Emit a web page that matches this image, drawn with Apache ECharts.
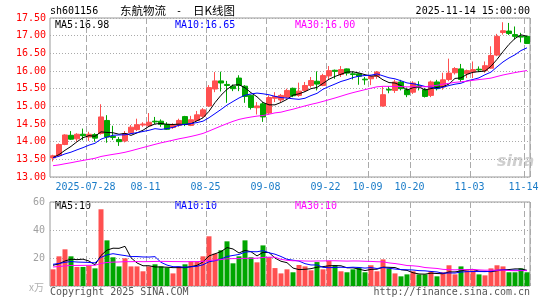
<!DOCTYPE html>
<html><head><meta charset="utf-8">
<script src="https://cdn.jsdelivr.net/npm/echarts@6/dist/echarts.min.js"></script>
<style>html,body{margin:0;padding:0;background:#fff}#c{width:545px;height:300px}</style>
</head><body><div id="c"></div><script>
// ---- data ----
const dates = [
 '2025-07-18','2025-07-21','2025-07-22','2025-07-23','2025-07-24','2025-07-25','2025-07-28','2025-07-29','2025-07-30','2025-07-31',
 '2025-08-01','2025-08-04','2025-08-05','2025-08-06','2025-08-07','2025-08-08','2025-08-11','2025-08-12','2025-08-13','2025-08-14',
 '2025-08-15','2025-08-18','2025-08-19','2025-08-20','2025-08-21','2025-08-22','2025-08-25','2025-08-26','2025-08-27','2025-08-28',
 '2025-08-29','2025-09-01','2025-09-02','2025-09-03','2025-09-04','2025-09-05','2025-09-08','2025-09-09','2025-09-10','2025-09-11',
 '2025-09-12','2025-09-15','2025-09-16','2025-09-17','2025-09-18','2025-09-19','2025-09-22','2025-09-23','2025-09-24','2025-09-25',
 '2025-09-26','2025-09-29','2025-09-30','2025-10-09','2025-10-10','2025-10-13','2025-10-14','2025-10-15','2025-10-16','2025-10-17',
 '2025-10-20','2025-10-21','2025-10-22','2025-10-23','2025-10-24','2025-10-27','2025-10-28','2025-10-29','2025-10-30','2025-10-31',
 '2025-11-03','2025-11-04','2025-11-05','2025-11-06','2025-11-07','2025-11-10','2025-11-11','2025-11-12','2025-11-13','2025-11-14'];
const opens = [13.54,13.61,13.92,14.18,14.08,14.21,14.13,14.20,14.23,14.60,
 14.15,14.06,14.02,14.25,14.34,14.47,14.45,14.58,14.58,14.49,
 14.40,14.46,14.71,14.46,14.60,14.72,15.01,15.49,15.72,15.62,
 15.57,15.80,15.57,15.31,14.96,15.07,14.81,15.23,15.18,15.26,
 15.51,15.31,15.45,15.59,15.71,15.59,15.86,16.02,15.90,16.06,
 15.92,15.92,15.77,15.78,15.85,15.01,15.48,15.45,15.69,15.47,
 15.40,15.58,15.47,15.31,15.69,15.55,15.76,15.95,16.06,15.92,
 15.97,16.05,16.01,16.08,16.45,17.09,17.13,17.03,16.98,16.98];
const closes = [13.60,13.92,14.19,14.07,14.21,14.17,14.21,14.10,14.70,14.13,
 14.12,14.00,14.23,14.41,14.48,14.50,14.55,14.56,14.49,14.35,
 14.48,14.60,14.49,14.62,14.76,14.90,15.53,15.72,15.66,15.59,
 15.50,15.59,15.28,14.97,15.01,14.70,15.25,15.28,15.31,15.45,
 15.30,15.43,15.59,15.73,15.63,15.87,16.01,15.99,16.04,15.94,
 15.90,15.85,15.75,15.85,15.97,15.33,15.46,15.69,15.50,15.33,
 15.66,15.55,15.28,15.69,15.50,15.75,15.94,16.07,15.76,16.01,
 16.04,16.03,16.15,16.44,16.98,17.14,17.06,16.98,16.96,16.78];
const lows = [13.44,13.59,13.90,14.05,14.00,14.04,14.02,14.00,14.20,13.97,
 14.05,13.88,13.98,14.22,14.30,14.42,14.42,14.50,14.42,14.33,
 14.36,14.42,14.44,14.44,14.58,14.68,14.98,15.40,15.42,15.10,
 15.43,15.43,15.10,14.91,14.77,14.56,14.77,15.12,15.12,15.22,
 15.26,15.27,15.41,15.53,15.45,15.57,15.75,15.78,15.83,15.87,
 15.76,15.61,15.61,15.60,15.78,14.99,15.37,15.38,15.45,15.26,
 15.35,15.45,15.25,15.26,15.45,15.47,15.71,15.90,15.69,15.80,
 15.80,15.97,15.95,16.06,16.42,17.03,17.02,16.89,16.81,16.77];
const highs = [13.63,13.95,14.21,14.30,14.24,14.37,14.28,14.24,15.06,14.75,
 14.45,14.13,14.30,14.47,14.65,14.55,14.81,14.70,14.63,14.55,
 14.52,14.65,14.73,14.73,14.87,14.95,15.60,15.97,15.98,15.72,
 15.62,15.88,15.60,15.33,15.12,15.12,15.31,15.40,15.35,15.50,
 15.53,15.67,15.69,15.83,15.99,15.92,16.14,16.04,16.14,16.07,
 15.99,15.94,15.83,15.88,16.00,15.56,15.57,15.75,15.75,15.53,
 15.71,15.71,15.52,15.73,15.75,15.95,16.35,16.11,16.20,16.04,
 16.27,16.13,16.27,16.70,17.05,17.38,17.36,17.26,17.08,17.00];
const volumes = [11.9,21.2,26.2,21.2,13.6,13.6,14.5,12.6,54.8,32.6,
 20.5,14.0,19.8,14.0,14.0,10.5,14.0,15.5,14.0,13.1,
 9.0,14.0,15.5,17.6,17.6,21.2,35.5,23.1,25.5,31.9,
 16.2,21.2,32.6,20.5,16.9,29.0,20.6,12.8,9.0,11.9,
 9.8,15.0,14.0,11.2,17.1,11.9,17.9,14.8,10.5,9.8,
 11.9,13.1,9.8,14.8,10.5,19.0,12.6,9.0,6.9,8.3,
 10.5,8.3,8.3,10.5,6.9,9.8,14.8,8.3,14.0,11.2,
 11.2,8.3,7.6,12.6,14.8,14.0,9.8,9.8,12.6,9.8];
// closes / volumes before the visible window, estimated from where the MA lines start
const prevCloses = [13.25,13.20,13.22,13.18,13.24,13.28,13.20,13.16,13.22,13.25,13.20,13.26,
 13.15,13.10,13.12,13.18,13.22,13.20,13.26,13.31,
 13.45,13.52,13.58,13.55,13.55,
 13.50,13.58,13.52,13.55];
const prevVolumes = [12,13,11,14,12,13,12,15,13,12,11,13,14,12,13,12,13,12,14,12,
 15,18,16,17,15, 16,15.9,15,15.2];
const tickDates = ['2025-07-28','2025-08-11','2025-08-25','2025-09-08','2025-09-22','2025-10-09','2025-10-20','2025-11-03','2025-11-14'];
const tickTexts = ['2025-07-28','08-11','08-25','09-08','09-22','10-09','10-20','11-03','11-14'];
const priceMA = ['MA5:16.98','MA10:16.65','MA30:16.00'];
const volMA = ['MA5:10','MA10:10','MA30:10'];
const code = 'sh601156';
const titleName = '东航物流';
const titleKind = '日K线图';
const stamp = '2025-11-14 15:00:00';
const copyright = 'Copyright 2025 SINA.COM';
const site = 'http://finance.sina.com.cn';

// ---- helpers ----
function movingAvg(prev, vals, n) {
  const all = prev.concat(vals), off = prev.length, out = [];
  for (let i = 0; i < vals.length; i++) {
    let s = 0;
    for (let k = off + i - n + 1; k <= off + i; k++) s += all[k];
    out.push(+(s / n).toFixed(3));
  }
  return out;
}
const RED = '#ff5050', GREEN = '#00a600';
const MONO = '"DejaVu Sans Mono", monospace';
const CJK = '"Noto Sans CJK SC", sans-serif';
const candle = dates.map((d, i) => [opens[i], closes[i], lows[i], highs[i]]);
const volData = volumes.map((v, i) => ({value: v, itemStyle: {color: closes[i] >= opens[i] ? RED : GREEN}}));
const tickIdx = new Set(tickDates.map(d => dates.indexOf(d)));
const tickText = {}; tickDates.forEach((d, k) => tickText[d] = tickTexts[k]);
const splitX = {show: true, interval: (i) => tickIdx.has(i), lineStyle: {color: '#aaa', type: [6, 3], width: 1}};
const lineS = (name, data, color, xi) => ({name, type: 'line', data, xAxisIndex: xi, yAxisIndex: xi,
  symbol: 'none', lineStyle: {color, width: 1}, itemStyle: {color}, silent: true, z: 5});
const txt = (text, x, y, fill, font, align) => ({type: 'text', x, y, silent: true,
  style: {text, fill, font, align: align || 'left', verticalAlign: 'middle'}});

const chart = echarts.init(document.getElementById('c'), null, {renderer: 'canvas'});
chart.setOption({
  animation: false,
  backgroundColor: '#fff',
  grid: [
    {left: 50, top: 18, width: 480, height: 159, show: true, borderColor: '#999', borderWidth: 1},
    {left: 50, top: 202, width: 480, height: 84, show: true, borderColor: '#999', borderWidth: 1}
  ],
  xAxis: [
    {type: 'category', gridIndex: 0, data: dates, boundaryGap: true,
     axisLine: {show: false}, axisTick: {show: false},
     axisLabel: {interval: (i) => tickIdx.has(i), margin: 5, color: '#1a7cc8',
       formatter: (v) => '{a|' + tickText[v] + '}',
       rich: {a: {fontFamily: MONO, fontSize: 10, color: '#1a7cc8', padding: [0, 7, 0, 0]}}},
     splitLine: splitX},
    {type: 'category', gridIndex: 1, data: dates, boundaryGap: true,
     axisLine: {show: false}, axisTick: {show: false}, axisLabel: {show: false},
     splitLine: splitX}
  ],
  yAxis: [
    {type: 'value', gridIndex: 0, min: 13, max: 17.5, interval: 0.5, scale: true,
     axisLine: {show: false}, axisTick: {show: false},
     axisLabel: {color: '#ff0000', fontFamily: MONO, fontSize: 10, margin: 4, showMinLabel: true, showMaxLabel: true,
       formatter: (v) => v.toFixed(2)},
     splitLine: {show: true, lineStyle: {color: '#aaa', type: [1, 2], width: 1}}},
    {type: 'value', gridIndex: 1, min: 0, max: 60, interval: 20,
     axisLine: {show: false}, axisTick: {show: false},
     axisLabel: {color: '#a0a0a0', fontFamily: MONO, fontSize: 10, margin: 5, showMinLabel: true, showMaxLabel: true,
       formatter: (v) => v === 0 ? '' : String(v)},
     splitLine: {show: true, lineStyle: {color: '#aaa', type: [1, 2], width: 1}}}
  ],
  series: [
    {type: 'candlestick', xAxisIndex: 0, yAxisIndex: 0, data: candle, barWidth: 5,
     itemStyle: {color: RED, color0: GREEN, borderColor: RED, borderColor0: GREEN, borderColorDoji: RED, borderWidth: 1}},
    lineS('MA5', movingAvg(prevCloses, closes, 5), '#000000', 0),
    lineS('MA10', movingAvg(prevCloses, closes, 10), '#0000ff', 0),
    lineS('MA30', movingAvg(prevCloses, closes, 30), '#ff00ff', 0),
    {type: 'bar', xAxisIndex: 1, yAxisIndex: 1, data: volData, barWidth: 5},
    lineS('VMA5', movingAvg(prevVolumes, volumes, 5), '#000000', 1),
    lineS('VMA10', movingAvg(prevVolumes, volumes, 10), '#0000ff', 1),
    lineS('VMA30', movingAvg(prevVolumes, volumes, 30), '#ff00ff', 1)
  ],
  graphic: [
    txt(code, 50, 11, '#000', '10px ' + MONO),
    txt(titleName, 120, 11, '#000', '11.5px ' + CJK),
    txt('-', 176, 11, '#000', '10px ' + MONO),
    txt(titleKind, 193, 11, '#000', '11.5px ' + CJK),
    txt(stamp, 530, 11, '#000', '10px ' + MONO, 'right'),
    txt(priceMA[0], 55, 25, '#000', '10px ' + MONO),
    txt(priceMA[1], 175, 25, '#0000ff', '10px ' + MONO),
    txt(priceMA[2], 295, 25, '#ff00ff', '10px ' + MONO),
    txt(volMA[0], 55, 206, '#000', '10px ' + MONO),
    txt(volMA[1], 175, 206, '#0000ff', '10px ' + MONO),
    txt(volMA[2], 295, 206, '#ff00ff', '10px ' + MONO),
    txt('x万', 44, 287, '#b0b0b0', '10px ' + CJK, 'right'),
    txt(copyright, 50, 292, '#555', '10px ' + MONO),
    txt(site, 530, 292, '#555', '10px ' + MONO, 'right'),
    {type: 'text', x: 497, y: 162, silent: true, z: 0,
     style: {text: 'sina', fill: '#cfcfcf', font: 'italic bold 16px "DejaVu Sans", sans-serif', verticalAlign: 'middle'}}
  ]
});
</script></body></html>
